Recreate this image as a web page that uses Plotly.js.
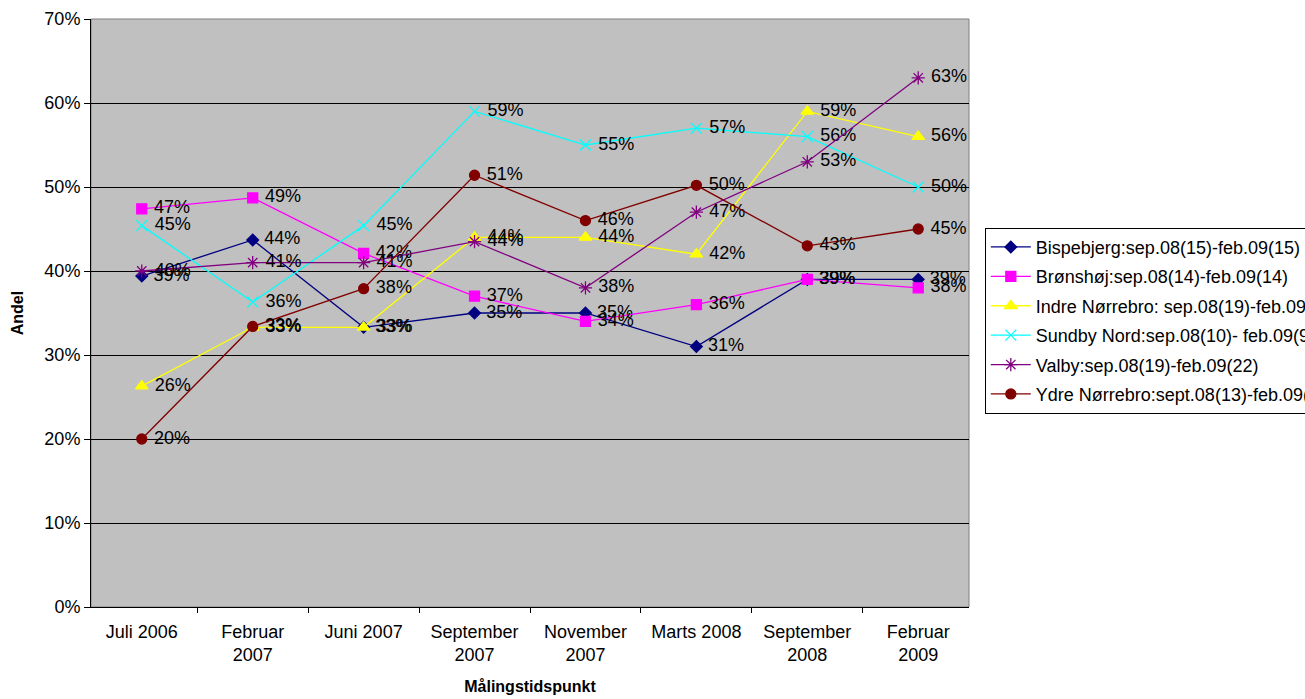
<!DOCTYPE html>
<html>
<head>
<meta charset="utf-8">
<script src="https://cdn.plot.ly/plotly-3.0.1.min.js"></script>
<style>html,body{margin:0;padding:0;background:#fff;}#chart{width:1305px;height:699px;}</style>
</head>
<body>
<div id="chart"></div>
<script>
const categories = ['Juli 2006','Februar<br>2007','Juni 2007','September<br>2007','November<br>2007','Marts 2008','September<br>2008','Februar<br>2009'];
const seriesNames = [
  'Bispebjerg:sep.08(15)-feb.09(15)',
  'Brønshøj:sep.08(14)-feb.09(14)',
  'Indre Nørrebro: sep.08(19)-feb.09(17)',
  'Sundby Nord:sep.08(10)- feb.09(9)',
  'Valby:sep.08(19)-feb.09(22)',
  'Ydre Nørrebro:sept.08(13)-feb.09(11)'
];
const bispebjerg   = [0.394, 0.437, 0.333, 0.35, 0.35, 0.31, 0.39, 0.39];
const bronshoj     = [0.474, 0.487, 0.421, 0.37, 0.34, 0.36, 0.39, 0.38];
const indreNorrebro= [0.263, 0.333, 0.333, 0.44, 0.44, 0.42, 0.59, 0.56];
const sundbyNord   = [0.454, 0.363, 0.454, 0.59, 0.55, 0.57, 0.56, 0.50];
const valby        = [0.40, 0.41, 0.41, 0.435, 0.38, 0.47, 0.53, 0.63];
const ydreNorrebro = [0.20, 0.334, 0.379, 0.514, 0.46, 0.502, 0.43, 0.45];

const colors  = ['#000080','#FF00FF','#FFFF00','#00FFFF','#800080','#800000'];
const symbols = ['diamond','square','triangle-up','x-thin-open','asterisk-open','circle'];
const sizes   = [9, 10, 11, 11, 11, 10];
const values  = [bispebjerg, bronshoj, indreNorrebro, sundbyNord, valby, ydreNorrebro];

const font = 'Arial, "Liberation Sans", sans-serif';
const traces = values.map((v, i) => ({
  type: 'scatter',
  mode: 'lines+markers+text',
  name: seriesNames[i],
  legendgroup: 'g' + i,
  x: categories,
  y: v,
  texttemplate: '\u00a0%{y:.0%}',
  textposition: 'middle right',
  textfont: {family: font, size: 18, color: '#000'},
  cliponaxis: false,
  line: {color: colors[i], width: 1.3},
  marker: {symbol: symbols[i], size: sizes[i], color: colors[i], line: {color: colors[i], width: 1.3}}
}));

const layout = {
  width: 1305, height: 699,
  margin: {l: 91, r: 336, t: 19, b: 92, autoexpand: false},
  paper_bgcolor: '#ffffff',
  plot_bgcolor: '#C0C0C0',
  font: {family: font, size: 18, color: '#000'},
  showlegend: true,
  legend: {
    x: 1.018, xanchor: 'left', y: 0.645, yanchor: 'top',
    bgcolor: '#ffffff', bordercolor: '#000', borderwidth: 1,
    font: {family: font, size: 18, color: '#000'},
    tracegroupgap: 3, itemwidth: 40
  },
  xaxis: {
    type: 'category',
    title: {text: '<b>Målingstidspunkt</b>', font: {family: font, size: 16}, standoff: 16},
    tickson: 'boundaries', ticks: 'outside', ticklen: 5, tickcolor: '#000',
    ticklabelstandoff: 8,
    showline: true, linecolor: '#000', linewidth: 1,
    showgrid: false, zeroline: false, tickangle: 0,
    tickfont: {family: font, size: 18}
  },
  yaxis: {
    title: {text: '<b>Andel</b>', font: {family: font, size: 16}, standoff: 16},
    range: [0, 0.7], dtick: 0.1, tickformat: '.0%',
    ticks: 'outside', ticklen: 6, tickcolor: '#000',
    showline: true, linecolor: '#000', linewidth: 1,
    showgrid: true, gridcolor: '#000', gridwidth: 1,
    zeroline: false,
    tickfont: {family: font, size: 18}
  },
  shapes: [{type: 'rect', xref: 'paper', yref: 'paper', x0: 0, x1: 1, y0: 0, y1: 1,
    line: {color: '#808080', width: 1}, layer: 'below'}]
};

Plotly.newPlot('chart', traces, layout, {displayModeBar: false, staticPlot: true});
</script>
</body>
</html>
